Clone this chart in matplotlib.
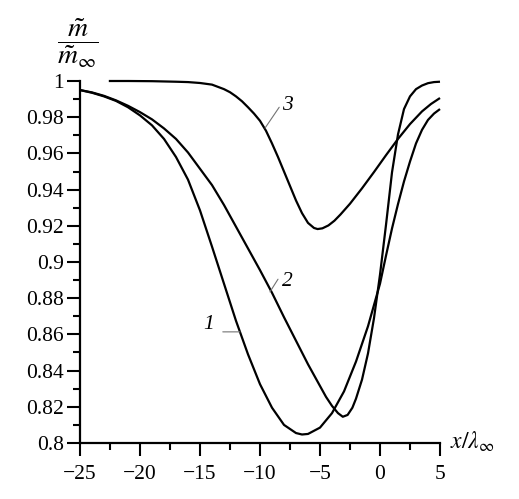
import numpy as np
import matplotlib
matplotlib.use("Agg")
import matplotlib.pyplot as plt
from matplotlib.ticker import MultipleLocator, FuncFormatter

# curve 1
x1 = [-25, -24, -23, -22, -21, -20, -19, -18, -17, -16, -15, -14, -13, -12,
      -11, -10, -9, -8, -7, -6.5, -6, -5, -4, -3, -2, -1, 0, 0.5, 1, 1.5, 2,
      2.5, 3, 3.5, 4, 4.5, 5]
y1 = [0.995, 0.9935, 0.9915, 0.989, 0.9855, 0.981, 0.9755, 0.968, 0.958,
      0.9455, 0.9285, 0.9085, 0.888, 0.8675, 0.849, 0.8325, 0.8195, 0.810,
      0.8055, 0.8047, 0.805, 0.8085, 0.8165, 0.8285, 0.845, 0.8645, 0.888,
      0.9035, 0.9185, 0.932, 0.9445, 0.9555, 0.9655, 0.973, 0.9785, 0.982,
      0.9845]

# curve 2
x2 = [-25, -24, -23, -22, -21, -20, -19, -18, -17, -16, -15, -14, -13, -12,
      -11, -10, -9, -8, -7, -6, -5, -4.5, -4, -3.5, -3.1, -2.7, -2.3, -2,
      -1.5, -1, -0.5, 0, 0.5, 1, 1.5, 2, 2.5, 3, 3.5, 4, 4.5, 5]
y2 = [0.995, 0.9937, 0.9918, 0.9893, 0.9863, 0.9828, 0.9788, 0.9738, 0.968,
      0.9605, 0.9515, 0.9425, 0.9315, 0.9195, 0.9075, 0.8955, 0.883, 0.8695,
      0.8565, 0.8435, 0.8315, 0.8255, 0.8205, 0.8165, 0.8145, 0.8155, 0.8195,
      0.8245, 0.835, 0.8495, 0.869, 0.893, 0.9205, 0.9495, 0.9705, 0.9845,
      0.9915, 0.9955, 0.9975, 0.9988, 0.9994, 0.9996]

# curve 3
x3 = [-22.6, -21, -19, -17, -16, -15, -14, -13, -12.5, -12, -11.5, -11, -10.5,
      -10, -9.5, -9, -8.5, -8, -7.5, -7, -6.5, -6, -5.5, -5.2, -4.8, -4.3,
      -3.8, -3.3, -2.5, -1.5, -0.5, 0.5, 1.5, 2.5, 3.5, 4.25, 5]
y3 = [1.0, 1.0, 0.9999, 0.9996, 0.9994, 0.9989, 0.998, 0.9955, 0.9938, 0.9915,
      0.9888, 0.9855, 0.982, 0.978, 0.9725, 0.9655, 0.958, 0.950, 0.942,
      0.934, 0.927, 0.9216, 0.9188, 0.9182, 0.9186, 0.9202, 0.9228, 0.9262,
      0.9322, 0.9407, 0.9497, 0.959, 0.968, 0.9762, 0.9832, 0.9873, 0.9906]

plt.rcParams['font.family'] = ['Liberation Serif', 'DejaVu Serif']
plt.rcParams['mathtext.fontset'] = 'stix'

W, H = 519, 499
fig = plt.figure(figsize=(W / 100, H / 100), dpi=100)
ax = fig.add_axes([80 / W, 56 / H, 360 / W, 362 / H])

for xs, ys in [(x1, y1), (x2, y2), (x3, y3)]:
    ax.plot(xs, ys, color='black', lw=1.6, clip_on=False,
            solid_joinstyle='round', solid_capstyle='butt')

ax.set_xlim(-25, 5)
ax.set_ylim(0.8, 1.0)
ax.spines['top'].set_visible(False)
ax.spines['right'].set_visible(False)
for s in ['left', 'bottom']:
    ax.spines[s].set_linewidth(1.6)

ax.xaxis.set_major_locator(MultipleLocator(5))
ax.xaxis.set_minor_locator(MultipleLocator(2.5))
ax.yaxis.set_major_locator(MultipleLocator(0.02))
ax.yaxis.set_minor_locator(MultipleLocator(0.01))
ax.yaxis.set_major_formatter(FuncFormatter(lambda v, p: '%g' % round(v, 2)))
ax.xaxis.set_major_formatter(FuncFormatter(lambda v, p: ('%g' % v).replace('-', '\u2212')))
ax.tick_params(which='major', length=9.5, width=1.5, labelsize=15.5, direction='out')
ax.tick_params(which='minor', length=5, width=1.5, direction='out')
ax.tick_params(axis='y', pad=2)
ax.tick_params(axis='x', pad=6)

# axis labels
fig.text(78 / W, 1 - 43 / H, r'$\dfrac{\tilde{m}}{\tilde{m}_\infty}$', fontsize=20,
         ha='center', va='center')
fig.text(450 / W, 1 - 442 / H, r'$x/\lambda_\infty$', fontsize=17,
         ha='left', va='center')

# curve labels with leader lines
lead = dict(arrowstyle='-', color='0.45', lw=0.8, shrinkA=0, shrinkB=0)
ax.annotate('', xy=(-9.58, 0.974), xytext=(-8.4, 0.9855), arrowprops=lead)
ax.text(-7.75, 0.9867, '3', fontsize=15.5, style='italic', ha='center', va='center')
ax.annotate('', xy=(-9.17, 0.8835), xytext=(-8.5, 0.8905), arrowprops=lead)
ax.text(-7.75, 0.8895, '2', fontsize=15.5, style='italic', ha='center', va='center')
ax.annotate('', xy=(-11.67, 0.8614), xytext=(-13.1, 0.8614), arrowprops=lead)
ax.text(-14.3, 0.8655, '1', fontsize=15.5, style='italic', ha='center', va='center')

fig.savefig('out.png', dpi=100)
